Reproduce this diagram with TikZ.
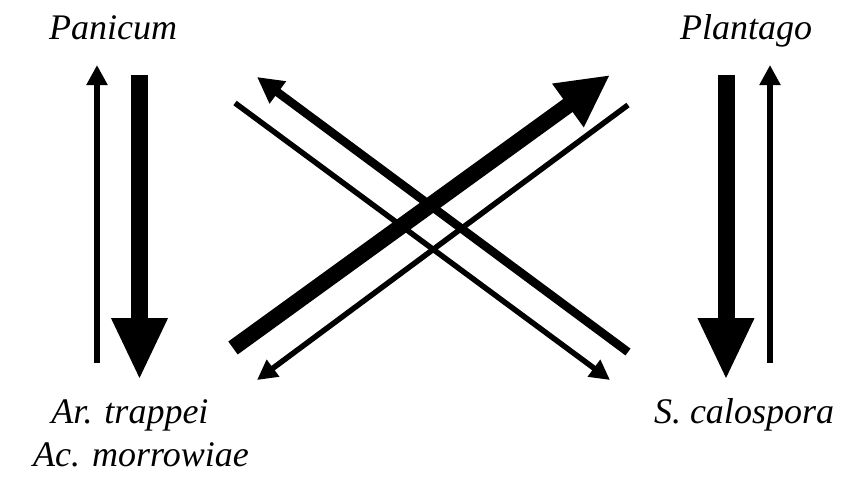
\documentclass[tikz,border=0pt]{standalone}
\usepackage{fontspec}
\setmainfont{Liberation Serif}
\usetikzlibrary{arrows.meta}
\begin{document}
\begin{tikzpicture}[x=1pt,y=-1pt,
  lbl/.style={font=\fontsize{36}{40}\selectfont\itshape, anchor=base, inner sep=0pt},
  thinarr/.style={line width=5.5pt, -{Triangle[length=20pt,width=20pt]}},
  medarr/.style={line width=8.5pt, -{Triangle[length=26pt,width=26pt]}},
  thickarr/.style={line width=17pt, -{Triangle[length=62pt,width=52pt]}},
  thickdiag/.style={line width=16pt, -{Triangle[length=52pt,width=50pt]}}]
\useasboundingbox (0,0) rectangle (842,482);
% labels
\node[lbl] (pan) at (113,39) {Panicum};
\node[lbl] (pla) at (746,39) {Plantago};
\node[lbl] (ar) at (130,423) {Ar. trappei};
\node[lbl] (ac) at (141,466) {Ac. morrowiae};
\node[lbl] (sc) at (744,423) {S. calospora};
% endpoints
\coordinate (l1s) at (97,363);  \coordinate (l1e) at (97,65);
\coordinate (l2s) at (139.5,75); \coordinate (l2e) at (139.5,380);
\coordinate (r1s) at (726,75);  \coordinate (r1e) at (726,380);
\coordinate (r2s) at (770,363); \coordinate (r2e) at (770,65);
\coordinate (d1s) at (233,348); \coordinate (d1e) at (610,75);
\coordinate (d2s) at (628,105); \coordinate (d2e) at (257,380);
\coordinate (d3s) at (235,103); \coordinate (d3e) at (610,380);
\coordinate (d4s) at (628,352); \coordinate (d4e) at (257,77);
% arrows
\draw[thinarr] (l1s) -- (l1e);
\draw[thickarr] (l2s) -- (l2e);
\draw[thickarr] (r1s) -- (r1e);
\draw[thinarr] (r2s) -- (r2e);
\draw[thinarr] (d3s) -- (d3e);
\draw[medarr] (d4s) -- (d4e);
\draw[thinarr] (d2s) -- (d2e);
\draw[thickdiag] (d1s) -- (d1e);
\end{tikzpicture}
\end{document}
